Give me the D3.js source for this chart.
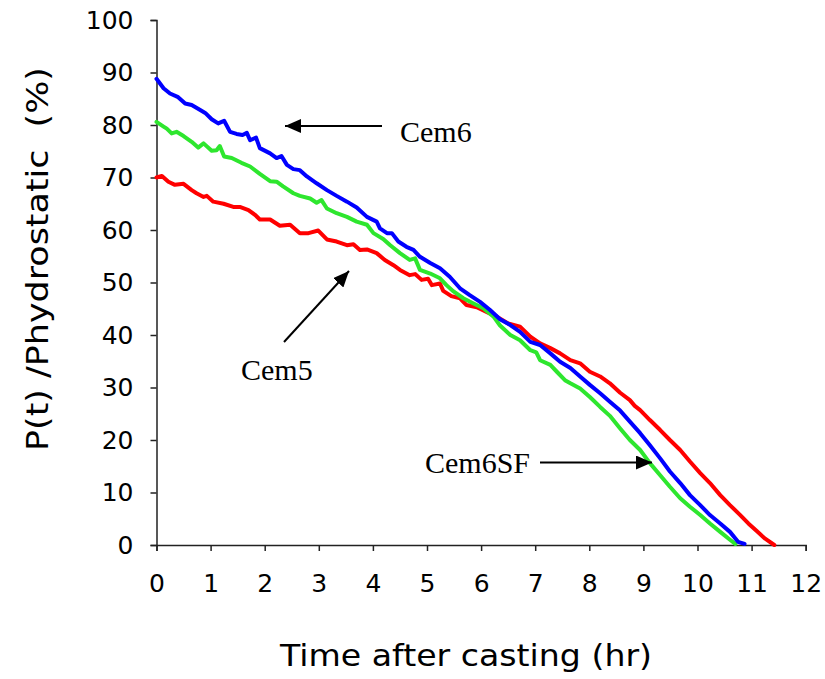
<!DOCTYPE html>
<html>
<head>
<meta charset="utf-8">
<script src="https://cdn.jsdelivr.net/npm/d3@7"></script>
<style>
  html, body { margin: 0; padding: 0; background: #fff; }
  svg { display: block; }
  .tick text { font-family: "DejaVu Sans", Verdana, sans-serif; font-size: 25px; fill: #000; }
  .note { font-family: "Liberation Serif", "Times New Roman", serif; font-size: 30px; fill: #000; }
</style>
</head>
<body>
<svg id="chart" width="825" height="679"></svg>
<script>
// Cem6 — time (hr) and pressure ratio (%)
const timeCem6 = [0, 0.13, 0.25, 0.40, 0.53, 0.65, 0.80, 0.90, 1.02, 1.14, 1.25, 1.36, 1.48, 1.59, 1.67, 1.73, 1.84, 1.91,
  2.10, 2.22, 2.31, 2.41, 2.53, 2.65, 2.78, 2.96, 3.15, 3.33, 3.52, 3.70, 3.89, 4.07, 4.13, 4.26, 4.35, 4.47, 4.62, 4.75,
  4.87, 5.06, 5.24, 5.42, 5.61, 5.79, 5.98, 6.16, 6.35, 6.54, 6.72, 6.91, 7.09, 7.28, 7.46, 7.65, 7.83, 8.01, 8.20, 8.38,
  8.57, 8.75, 8.94, 9.12, 9.31, 9.49, 9.68, 9.86, 10.05, 10.23, 10.42, 10.60, 10.75, 10.87];
const pCem6 = [88.8, 87.0, 86.0, 85.3, 84.1, 83.8, 82.9, 82.3, 81.1, 80.3, 80.8, 78.7, 78.3, 78.1, 78.5, 77.1, 77.6, 75.6,
  74.6, 73.7, 74.1, 72.4, 71.6, 71.4, 70.2, 68.9, 67.6, 66.5, 65.4, 64.3, 62.5, 61.6, 60.3, 59.4, 59.4, 57.8, 56.8, 56.2,
  54.9, 53.7, 52.7, 51.1, 48.9, 47.6, 46.3, 44.8, 43.0, 41.9, 40.6, 38.7, 38.1, 36.5, 34.9, 33.7, 32.1, 30.5, 28.9, 27.3,
  25.6, 23.5, 21.3, 19.0, 16.5, 14.0, 11.8, 9.5, 7.6, 5.7, 4.1, 2.5, 0.6, 0.2];

// Cem6SF
const timeCem6SF = [0, 0.13, 0.19, 0.28, 0.37, 0.50, 0.65, 0.77, 0.87, 1.02, 1.11, 1.17, 1.25, 1.39, 1.57, 1.73, 1.91,
  2.10, 2.22, 2.34, 2.53, 2.65, 2.84, 2.96, 3.05, 3.15, 3.33, 3.52, 3.70, 3.89, 4.01, 4.19, 4.32, 4.50, 4.68, 4.78, 4.87,
  5.06, 5.24, 5.36, 5.49, 5.67, 5.86, 6.04, 6.23, 6.35, 6.54, 6.72, 6.91, 7.02, 7.09, 7.28, 7.40, 7.55, 7.65, 7.83, 8.01,
  8.20, 8.38, 8.57, 8.75, 8.94, 9.12, 9.31, 9.49, 9.68, 9.86, 10.05, 10.23, 10.42, 10.60, 10.70];
const pCem6SF = [80.6, 79.7, 79.3, 78.4, 78.7, 77.9, 76.8, 75.7, 76.5, 75.1, 75.2, 76.0, 74.0, 73.7, 72.8, 72.1, 70.7,
  69.3, 69.2, 68.3, 67.0, 66.5, 66.0, 65.2, 65.7, 64.1, 63.2, 62.5, 61.6, 61.0, 59.4, 58.3, 57.1, 55.6, 54.3, 54.6, 52.4,
  51.7, 50.8, 49.5, 48.3, 47.0, 46.0, 45.1, 43.5, 41.8, 40.0, 39.0, 37.1, 36.7, 35.2, 34.3, 33.0, 31.4, 30.8, 29.8, 28.2,
  26.3, 24.6, 22.2, 20.0, 18.1, 15.6, 13.3, 11.1, 8.9, 7.3, 5.7, 4.1, 2.5, 1.0, 0.2];

// Cem5
const timeCem5 = [0, 0.10, 0.22, 0.34, 0.50, 0.65, 0.74, 0.87, 0.93, 1.05, 1.24, 1.42, 1.54, 1.70, 1.82, 1.91, 2.10,
  2.28, 2.47, 2.65, 2.81, 2.99, 3.15, 3.33, 3.52, 3.64, 3.76, 3.89, 4.07, 4.22, 4.38, 4.50, 4.68, 4.78, 4.90, 5.02, 5.09,
  5.24, 5.30, 5.45, 5.61, 5.73, 5.92, 6.10, 6.29, 6.50, 6.72, 6.91, 7.09, 7.28, 7.46, 7.65, 7.83, 8.01, 8.20, 8.38, 8.57,
  8.75, 8.84, 8.94, 9.12, 9.31, 9.49, 9.68, 9.86, 10.05, 10.23, 10.42, 10.60, 10.79, 10.94, 11.10, 11.25, 11.42];
const pCem5 = [70.0, 70.3, 69.2, 68.6, 68.8, 67.6, 67.0, 66.3, 66.5, 65.4, 65.0, 64.4, 64.4, 63.8, 62.9, 62.0, 62.0,
  60.8, 61.0, 59.4, 59.4, 59.9, 58.2, 57.8, 57.1, 57.3, 56.2, 56.3, 55.6, 54.3, 53.3, 52.4, 51.4, 51.6, 50.5, 50.7, 49.5,
  49.8, 48.4, 47.4, 47.0, 45.7, 45.3, 44.4, 43.5, 42.2, 41.6, 39.7, 38.4, 37.5, 36.5, 35.2, 34.6, 33.0, 32.1, 30.8, 29.0,
  27.6, 26.5, 25.7, 23.8, 21.9, 20.0, 18.1, 15.9, 13.7, 11.8, 9.5, 7.6, 5.7, 4.1, 2.6, 1.2, 0];

const xTicks = [0, 1, 2, 3, 4, 5, 6, 7, 8, 9, 10, 11, 12];
const yTicks = [0, 10, 20, 30, 40, 50, 60, 70, 80, 90, 100];

const series = [
  { name: "Cem5",   t: timeCem5,   p: pCem5,   color: "#ff0000" },
  { name: "Cem6SF", t: timeCem6SF, p: pCem6SF, color: "#2ee62e" },
  { name: "Cem6",   t: timeCem6,   p: pCem6,   color: "#0000ff" }
];

const svg = d3.select("#chart");
const x = d3.scaleLinear().domain([0, 12]).range([156.5, 805.7]);
const y = d3.scaleLinear().domain([0, 100]).range([545, 20]);

// Axes
const xAxis = svg.append("g")
  .attr("transform", `translate(0,${y(0)})`)
  .call(d3.axisBottom(x).tickValues(xTicks).tickFormat(d3.format("d")).tickSizeOuter(0).tickSize(6).tickPadding(23));
const yAxis = svg.append("g")
  .attr("transform", `translate(${x(0)},0)`)
  .call(d3.axisLeft(y).tickValues(yTicks).tickFormat(d3.format("d")).tickSizeOuter(0).tickSize(6).tickPadding(17));
[xAxis, yAxis].forEach(g => {
  g.select(".domain").attr("stroke", "#222").attr("stroke-width", 1.5);
  g.selectAll(".tick line").attr("stroke", "#222").attr("stroke-width", 1.5);
});

// Axis titles
svg.append("text")
  .attr("x", 280).attr("y", 666)
  .attr("textLength", 372).attr("lengthAdjust", "spacingAndGlyphs")
  .style("font-family", "'DejaVu Sans', Verdana, sans-serif")
  .style("font-size", "30px")
  .text("Time after casting (hr)");

svg.append("text")
  .attr("transform", "translate(48,451) rotate(-90)")
  .attr("textLength", 384).attr("lengthAdjust", "spacingAndGlyphs")
  .style("font-family", "'DejaVu Sans', Verdana, sans-serif")
  .style("font-size", "30px")
  .text("P(t) /Phydrostatic\u00A0\u00A0(%)");

// Curves
const line = d3.line()
  .x(d => x(d[0]))
  .y(d => y(d[1]));

svg.append("g").selectAll("path")
  .data(series)
  .join("path")
  .attr("d", s => line(s.t.map((t, i) => [t, s.p[i]])))
  .attr("fill", "none")
  .attr("stroke", s => s.color)
  .attr("stroke-width", 4)
  .attr("stroke-linejoin", "round")
  .attr("stroke-linecap", "round");

// Annotation arrows and labels
svg.append("defs").append("marker")
  .attr("id", "head")
  .attr("viewBox", "0 0 16 14")
  .attr("refX", 16).attr("refY", 7)
  .attr("markerWidth", 16).attr("markerHeight", 14)
  .attr("markerUnits", "userSpaceOnUse")
  .attr("orient", "auto")
  .append("path")
  .attr("d", "M0,0 L16,7 L0,14 Z")
  .attr("fill", "#000");

const arrows = [
  { x1: 382, y1: 126, x2: 285, y2: 126 },
  { x1: 284, y1: 342, x2: 349, y2: 271 },
  { x1: 540, y1: 462.5, x2: 652, y2: 462.5 }
];
svg.append("g").selectAll("line")
  .data(arrows)
  .join("line")
  .attr("x1", d => d.x1).attr("y1", d => d.y1)
  .attr("x2", d => d.x2).attr("y2", d => d.y2)
  .attr("stroke", "#000")
  .attr("stroke-width", 2)
  .attr("marker-end", "url(#head)");

const notes = [
  { text: "Cem6", x: 400, y: 141.5 },
  { text: "Cem5", x: 241, y: 380 },
  { text: "Cem6SF", x: 425, y: 473 }
];
svg.append("g").selectAll("text")
  .data(notes)
  .join("text")
  .attr("class", "note")
  .attr("x", d => d.x).attr("y", d => d.y)
  .text(d => d.text);
</script>
</body>
</html>
